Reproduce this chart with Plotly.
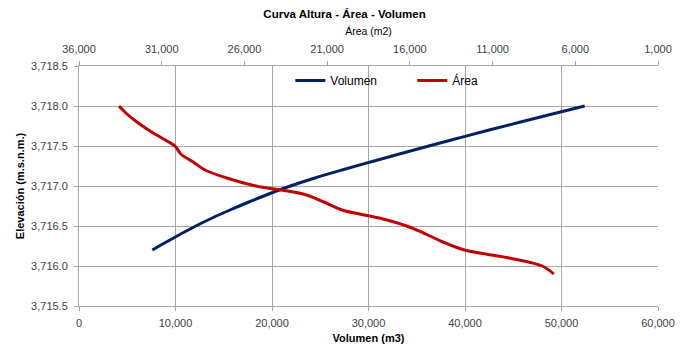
import plotly.graph_objects as go

# Elevation levels (m.s.n.m.)
elev_vol = [3716.2, 3716.3, 3716.4, 3716.5, 3716.6, 3716.7, 3716.8, 3716.9, 3717.0,
            3717.1, 3717.2, 3717.3, 3717.4, 3717.5, 3717.6, 3717.7, 3717.8, 3717.9, 3718.0]
volumen = [7600, 9050, 10550, 12100, 13800, 15650, 17600, 19650, 21900,
           24450, 27250, 30200, 33200, 36250, 39350, 42500, 45750, 49050, 52400]

elev_area = [3715.9, 3716.0, 3716.1, 3716.2, 3716.3, 3716.4, 3716.5, 3716.6, 3716.7, 3716.8,
             3716.9, 3717.0, 3717.1, 3717.2, 3717.3, 3717.4, 3717.5, 3717.6, 3717.7, 3717.8,
             3717.9, 3718.0]
area = [7300, 8000, 10000, 12700, 14000, 15040, 16190, 17850, 20100, 21200,
        22450, 25300, 27070, 28380, 29100, 29850, 30200, 31000, 31800, 32500,
        33100, 33580]

FONT = "Liberation Sans"
GRID = "#a6a6a6"

fig = go.Figure()
fig.add_trace(go.Scatter(x=volumen, y=elev_vol, mode="lines", name="Volumen",
                         line=dict(color="#002060", width=3, shape="spline"),
                         xaxis="x", yaxis="y"))
fig.add_trace(go.Scatter(x=area, y=elev_area, mode="lines", name="Área",
                         line=dict(color="#c00000", width=3, shape="spline"),
                         xaxis="x2", yaxis="y"))

fig.update_layout(
    width=689, height=352,
    margin=dict(l=79, r=31, t=66, b=46, autoexpand=False),
    paper_bgcolor="white", plot_bgcolor="white",
    font=dict(family=FONT, size=11, color="#404040"),
    title=dict(text="<b>Curva Altura - Área - Volumen</b>", x=0.5, xref="container",
               xanchor="center", y=0.96, yref="container", yanchor="middle",
               font=dict(size=11.5, color="#000000")),
    showlegend=True,
    legend=dict(orientation="h", x=0.365, xanchor="left", y=0.94, yanchor="middle",
                bgcolor="rgba(0,0,0,0)", itemwidth=30, entrywidth=77, entrywidthmode="pixels",
                font=dict(size=12, color="#000000"), traceorder="normal"),
    xaxis=dict(range=[0, 60000], dtick=10000, tick0=0, tickformat=",",
               showgrid=True, gridcolor=GRID, gridwidth=1,
               showline=True, linecolor=GRID, linewidth=1,
               ticks="outside", ticklen=4, tickcolor=GRID, ticklabelstandoff=3,
               zeroline=False, automargin=False,
               title=dict(text="<b>Volumen (m3)</b>", standoff=6,
                          font=dict(size=11, color="#000000"))),
    xaxis2=dict(overlaying="x", side="top", range=[36000, 1000], dtick=5000, tick0=1000,
                tickformat=",", showgrid=False, showline=True, linecolor=GRID,
                ticks="outside", ticklen=4, tickcolor=GRID, ticklabelstandoff=4,
                zeroline=False, automargin=False,
                title=dict(text="Área (m2)", standoff=4,
                           font=dict(size=10.5, color="#000000"))),
    yaxis=dict(range=[3715.5, 3718.5], dtick=0.5, tick0=3715.5, tickformat=",.1f",
               showgrid=True, gridcolor=GRID, gridwidth=1,
               showline=True, linecolor=GRID, linewidth=1,
               ticks="outside", ticklen=4, tickcolor=GRID, ticklabelstandoff=4,
               zeroline=False, automargin=False,
               title=dict(text="<b>Elevación (m.s.n.m.)</b>", standoff=4,
                          font=dict(size=11, color="#000000"))),
)

fig.write_html("out.html")
